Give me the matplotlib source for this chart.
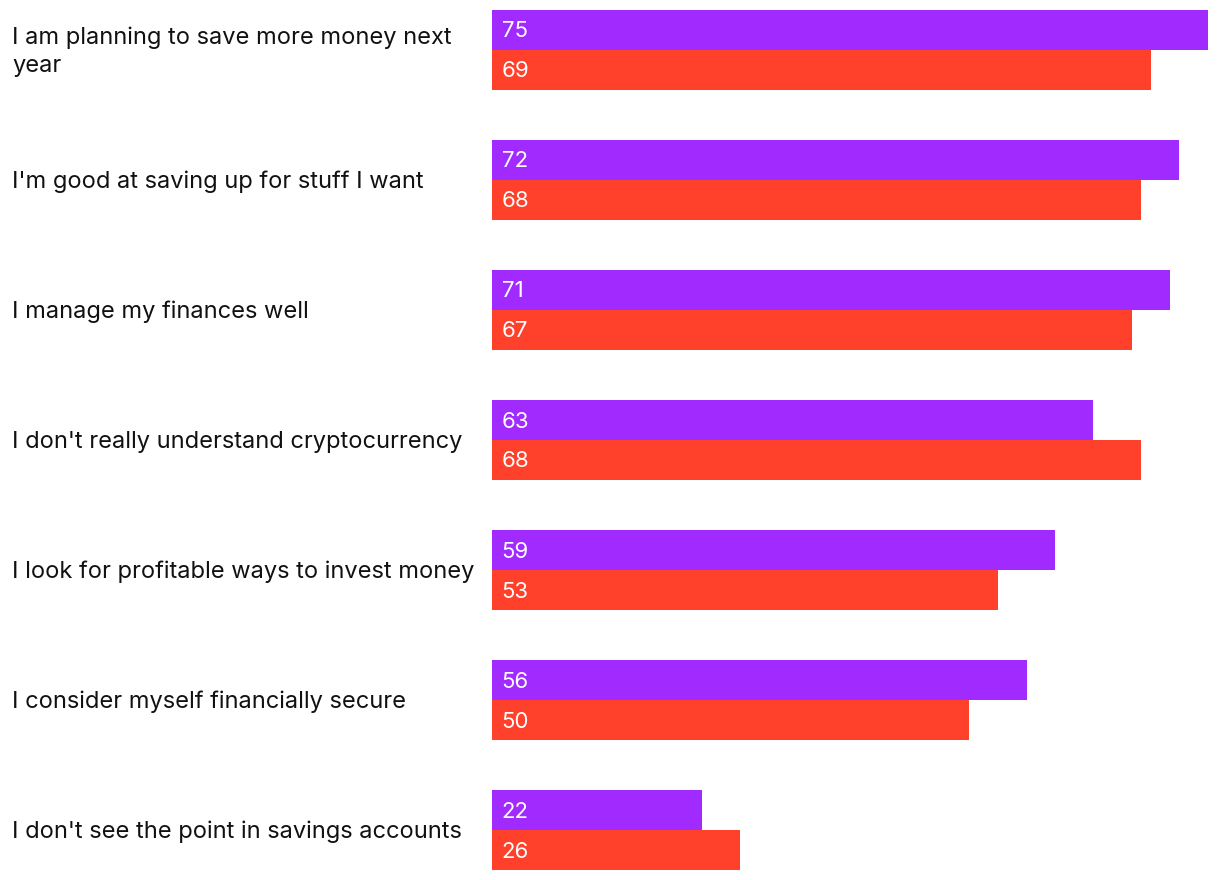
import matplotlib.pyplot as plt
import numpy as np

plt.rcParams['font.family'] = ['Inter', 'DejaVu Sans']

labels = ["I am planning to save more money next\nyear",
          "I'm good at saving up for stuff I want",
          "I manage my finances well",
          "I don't really understand cryptocurrency",
          "I look for profitable ways to invest money",
          "I consider myself financially secure",
          "I don't see the point in savings accounts"]
purple_vals = [75, 72, 71, 63, 59, 56, 22]
red_vals = [69, 68, 67, 68, 53, 50, 26]

PURPLE = "#A12AFF"
RED = "#FF412C"

W, H = 1220, 880
fig = plt.figure(figsize=(W / 100, H / 100), dpi=100)
# axes span pixels x 492..1208, y 10..870
ax = fig.add_axes([492 / W, 10 / H, 716 / W, 860 / H])

n = len(labels)
y = np.arange(n)
h = 40 / 130
ax.barh(y - h / 2, purple_vals, height=h, color=PURPLE)
ax.barh(y + h / 2, red_vals, height=h, color=RED)

ax.set_xlim(0, 75)
ax.set_ylim(n - 1 + h, -h)
ax.axis("off")

dy = 1.5 / 130  # nudge text down a touch
for i in range(n):
    ax.text(1.0, i - h / 2 + dy, str(purple_vals[i]), color="white", fontsize=16,
            va="center", ha="left")
    ax.text(1.0, i + h / 2 + dy, str(red_vals[i]), color="white", fontsize=16,
            va="center", ha="left")
    fig.text(12 / W, 1 - (52 + 130 * i) / H, labels[i], fontsize=17,
             va="center", ha="left", color="#111111", linespacing=1.33)

fig.savefig("out.png", dpi=100)
